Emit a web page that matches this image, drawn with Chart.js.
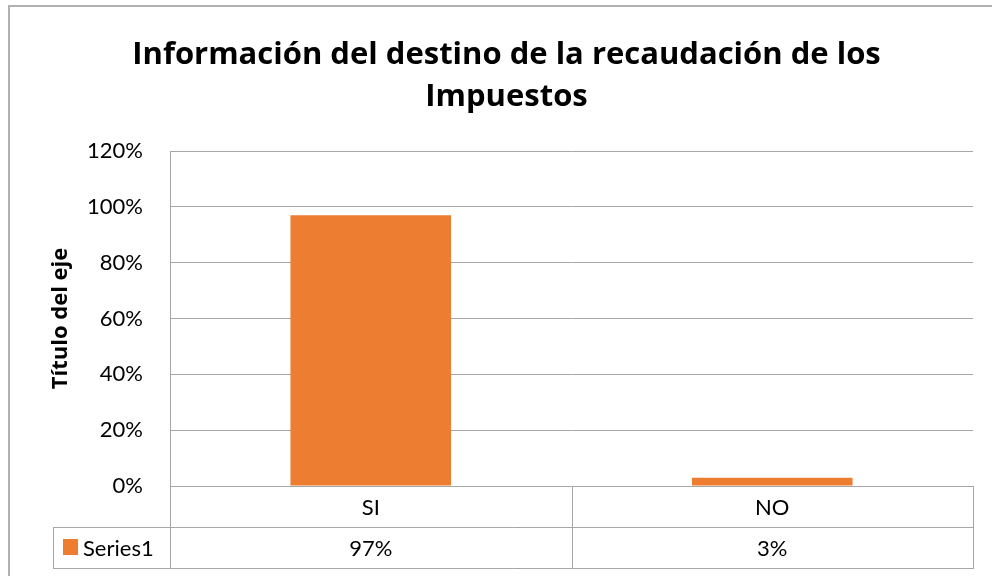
<!DOCTYPE html>
<html>
<head>
<meta charset="utf-8">
<title>Destino de la recaudación</title>
<script src="https://cdn.jsdelivr.net/npm/chart.js@4/dist/chart.umd.min.js"></script>
<style>
	body { margin: 0; background: #fff; }
	#caja { width: 992px; height: 576px; position: relative; }
</style>
</head>
<body>
<div id="caja"><canvas id="grafica"></canvas></div>
<script>
	const categorias = ["SI", "NO"];
	const valores = [0.97, 0.03];
	const nombreSerie = "Series1";
	const titulo = ["Información del destino de la recaudación de los", "Impuestos"];
	const tituloEje = "Título del eje";

	const naranja = "#ed7d31";
	const gris = "#a6a6a6";
	const fuente = "Lato, 'Open Sans', sans-serif";
	const fuenteNegrita = "'Open Sans', Lato, sans-serif";

	// marco exterior y tabla de datos bajo el eje
	const tablaDatos = {
		id: "tablaDatos",
		beforeDraw(chart) {
			const c = chart.ctx;
			c.save();
			c.strokeStyle = "#b0b0b0";
			c.lineWidth = 2;
			c.beginPath();
			c.moveTo(9, 600);
			c.lineTo(9, 6);
			c.lineTo(1000, 6);
			c.stroke();
			c.restore();
		},
		afterDraw(chart) {
			const c = chart.ctx;
			const area = chart.chartArea;
			const x = chart.scales.x;
			const filaAlto = 41;
			const y0 = area.bottom;
			const y1 = y0 + filaAlto;
			const y2 = y1 + filaAlto;
			const leyendaIzq = area.left - 117;
			const medio = (x.getPixelForValue(0) + x.getPixelForValue(1)) / 2;

			c.save();
			c.strokeStyle = gris;
			c.lineWidth = 1;
			c.beginPath();
			c.moveTo(area.left + 0.5, area.top);
			c.lineTo(area.left + 0.5, y2 + 0.5);
			c.moveTo(Math.round(medio) + 0.5, y0);
			c.lineTo(Math.round(medio) + 0.5, y2 + 0.5);
			c.moveTo(area.right + 0.5, y0);
			c.lineTo(area.right + 0.5, y2 + 0.5);
			c.moveTo(leyendaIzq + 0.5, y1);
			c.lineTo(leyendaIzq + 0.5, y2 + 0.5);
			c.moveTo(leyendaIzq, y1 + 0.5);
			c.lineTo(area.right + 1, y1 + 0.5);
			c.moveTo(leyendaIzq, y2 + 0.5);
			c.lineTo(area.right + 1, y2 + 0.5);
			c.stroke();

			c.fillStyle = "#000";
			c.font = "22px " + fuente;
			c.textAlign = "center";
			c.textBaseline = "middle";
			categorias.forEach((cat, i) => {
				const cx = x.getPixelForValue(i);
				c.fillText(cat, cx, y0 + filaAlto / 2 + 1);
				c.fillText(Math.round(valores[i] * 100) + "%", cx, y1 + filaAlto / 2 + 1);
			});

			c.fillStyle = naranja;
			c.fillRect(leyendaIzq + 10, y1 + 12, 15, 16);
			c.fillStyle = "#000";
			c.textAlign = "left";
			c.fillText(nombreSerie, leyendaIzq + 30, y1 + filaAlto / 2 + 1);
			c.restore();
		},
	};

	new Chart(document.getElementById("grafica"), {
		type: "bar",
		data: {
			labels: categorias,
			datasets: [
				{
					label: nombreSerie,
					data: valores,
					backgroundColor: naranja,
					borderWidth: 0,
					barPercentage: 0.4,
					categoryPercentage: 1,
				},
			],
		},
		options: {
			responsive: true,
			maintainAspectRatio: false,
			animation: false,
			layout: {
				padding: { top: 34, left: 40, right: 19, bottom: 90 },
			},
			scales: {
				x: {
					display: false,
				},
				y: {
					min: 0,
					max: 1.2,
					afterFit(scale) {
						scale.width = 130;
					},
					ticks: {
						stepSize: 0.2,
						padding: 27,
						color: "#000",
						font: { family: fuente, size: 22 },
						callback: (v) => Math.round(v * 100) + "%",
					},
					grid: {
						color: gris,
						drawTicks: false,
					},
					border: { display: false },
					title: {
						display: true,
						text: tituloEje,
						color: "#000",
						font: { family: fuenteNegrita, size: 22, weight: "bold", lineHeight: 1.2 },
						padding: { top: 8, bottom: 0 },
					},
				},
			},
			plugins: {
				legend: { display: false },
				tooltip: { enabled: false },
				title: {
					display: true,
					text: titulo,
					color: "#000",
					font: { family: fuenteNegrita, size: 31, weight: "bold", lineHeight: 42 / 31 },
					padding: { top: 0, bottom: 33 },
				},
			},
		},
		plugins: [tablaDatos],
	});
</script>
</body>
</html>
